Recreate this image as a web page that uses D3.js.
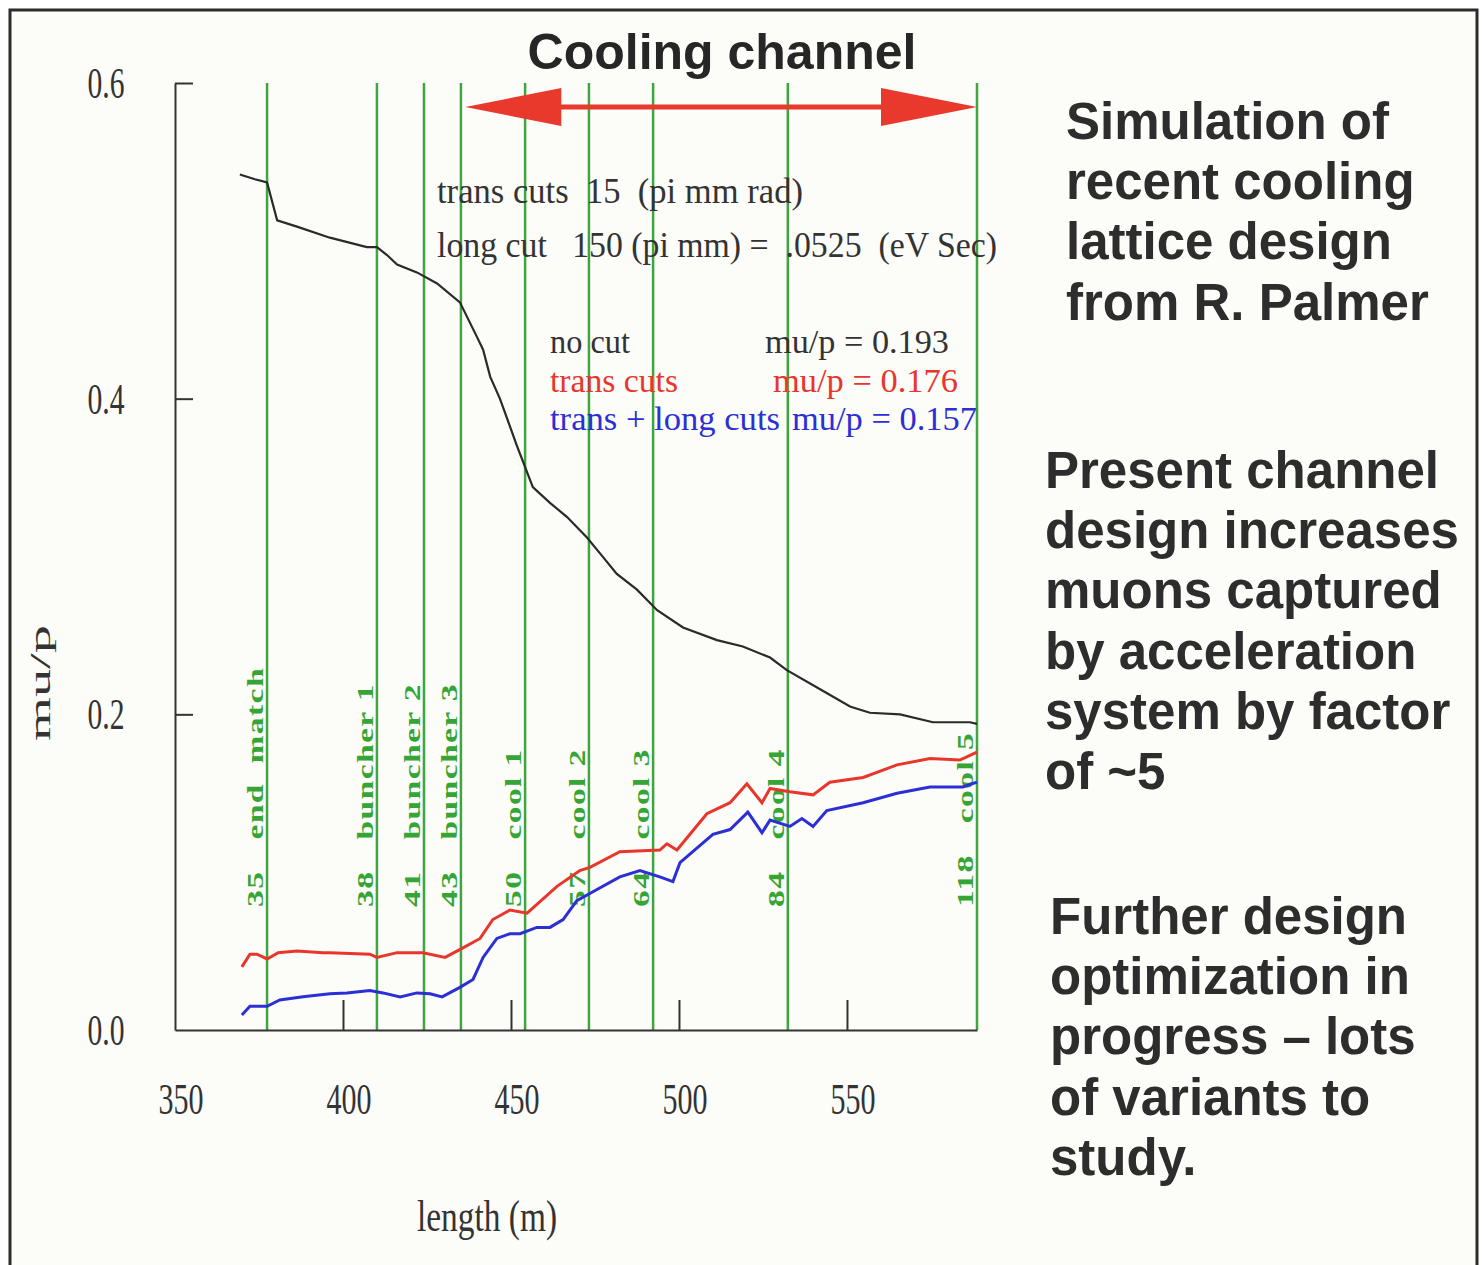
<!DOCTYPE html>
<html>
<head>
<meta charset="utf-8">
<script src="https://cdn.jsdelivr.net/npm/d3@7"></script>
<style>
  body { margin: 0; background: #fff; }
  text { white-space: pre; }
</style>
</head>
<body>
<div id="chart"></div>
<script>
// axis ticks
const xTicks = [350, 400, 450, 500, 550];
const yTicks = [0.0, 0.2, 0.4, 0.6];

// lattice section boundaries (length in m), cell numbers and names
const sectionPos = [377.4, 410.1, 424.1, 435.1, 454.2, 473.2, 492.3, 532.4, 588.7];
const sectionNum = ['35', '38', '41', '43', '50', '57', '64', '84', '118'];
const sectionName = ['end  match', 'buncher 1', 'buncher 2', 'buncher 3', 'cool 1', 'cool 2', 'cool 3', 'cool 4', 'cool 5'];

// mu/p along the channel: [length (m), mu/p]
const noCut = [
    [369.3, 0.542], [373.8, 0.539], [377.4, 0.537], [380.4, 0.513], [386.3, 0.509],
    [396.1, 0.502], [407.1, 0.496], [410.1, 0.496], [413.1, 0.491], [416.1, 0.485],
    [422.0, 0.480], [428.0, 0.473], [434.8, 0.461], [439.9, 0.439], [441.7, 0.431],
    [443.8, 0.414], [446.7, 0.400], [451.8, 0.370], [456.5, 0.344], [461.6, 0.334],
    [466.7, 0.325], [472.6, 0.312], [476.5, 0.302], [481.5, 0.289], [487.5, 0.279],
    [493.5, 0.266], [501.2, 0.255], [511.3, 0.247], [519.0, 0.243], [527.1, 0.236],
    [532.1, 0.228], [541.1, 0.217], [550.9, 0.205], [556.8, 0.201], [565.8, 0.200],
    [575.6, 0.195], [586.6, 0.195], [588.7, 0.194]
];
const transCuts = [
    [369.9, 0.040], [372.3, 0.048], [374.4, 0.048], [377.4, 0.045], [380.7, 0.049],
    [386.3, 0.050], [394.0, 0.049], [396.1, 0.049], [408.0, 0.048], [410.1, 0.046],
    [416.1, 0.049], [423.8, 0.049], [430.4, 0.046], [435.7, 0.052], [440.8, 0.058],
    [444.6, 0.070], [449.7, 0.076], [454.8, 0.074], [463.7, 0.091], [470.5, 0.101],
    [473.5, 0.103], [482.4, 0.113], [494.3, 0.114], [496.4, 0.118], [499.4, 0.114],
    [508.3, 0.137], [515.2, 0.144], [520.2, 0.156], [524.7, 0.144], [527.1, 0.153],
    [533.0, 0.151], [539.9, 0.149], [544.9, 0.157], [554.8, 0.160], [564.9, 0.168],
    [574.7, 0.172], [583.6, 0.171], [588.7, 0.176]
];
const transLongCuts = [
    [369.9, 0.0095], [372.3, 0.015], [377.4, 0.015], [381.2, 0.019], [388.1, 0.021],
    [396.1, 0.023], [401.2, 0.0235], [408.0, 0.025], [411.9, 0.0235], [417.0, 0.021],
    [422.0, 0.0235], [425.9, 0.023], [429.5, 0.021], [434.8, 0.027], [438.7, 0.032],
    [441.7, 0.046], [445.8, 0.058], [449.7, 0.061], [452.7, 0.061], [457.7, 0.065],
    [461.6, 0.065], [465.5, 0.070], [469.6, 0.082], [475.6, 0.089], [482.4, 0.097],
    [488.4, 0.101], [494.3, 0.097], [498.2, 0.094], [500.3, 0.106], [510.1, 0.124],
    [515.2, 0.127], [520.5, 0.138], [524.7, 0.125], [527.1, 0.133], [533.0, 0.129],
    [536.6, 0.134], [539.9, 0.129], [544.0, 0.139], [554.8, 0.144], [564.9, 0.150],
    [574.7, 0.154], [584.5, 0.154], [588.7, 0.157]
];

const legendLabels = ['no cut', 'trans cuts', 'trans + long cuts'];
const legendValues = ['mu/p = 0.193', 'mu/p = 0.176', 'mu/p = 0.157'];
const cutNotes = ['trans cuts  15  (pi mm rad)', 'long cut   150 (pi mm) =  .0525  (eV Sec)'];
const arrowRange = [436.4, 588.7];

const textBlock1 = ['Simulation of', 'recent cooling', 'lattice design', 'from R. Palmer'];
const textBlock2 = ['Present channel', 'design increases', 'muons captured', 'by acceleration', 'system by factor', 'of ~5'];
const textBlock3 = ['Further design', 'optimization in', 'progress \u2013 lots', 'of variants to', 'study.'];

const W = 1484, H = 1265;
const serif = '"Liberation Serif", "DejaVu Serif", serif';
const sans = '"Liberation Sans", Arial, sans-serif';
const green = '#3fa53f';

const svg = d3.select('#chart')
    .append('svg')
    .attr('width', W)
    .attr('height', H);

// slide frame
svg.append('rect')
    .attr('x', 10).attr('y', 10)
    .attr('width', 1467).attr('height', 1300)
    .attr('fill', '#fcfcf9')
    .attr('stroke', '#2b2b2b')
    .attr('stroke-width', 3);

const x = d3.scaleLinear().domain([350, 588.7]).range([175, 977]);
const y = d3.scaleLinear().domain([0, 0.6]).range([1030, 83]);

// serif text, squeezed to a width and stretched upwards like the original print
function stext(g, str, px, py, size, len, color, anchor, sy) {
    const t = g.append('text')
        .attr('transform', 'translate(' + px + ',' + py + ') scale(1,' + (sy || 1.25) + ')')
        .attr('font-family', serif)
        .attr('font-size', size)
        .attr('fill', color || '#2e2e2e')
        .attr('text-anchor', anchor || 'start')
        .text(str);
    if (len) t.attr('textLength', len).attr('lengthAdjust', 'spacingAndGlyphs');
    return t;
}

// section boundaries
svg.append('g')
    .selectAll('line')
    .data(sectionPos)
    .enter()
    .append('line')
    .attr('x1', d => x(d)).attr('x2', d => x(d))
    .attr('y1', y(0.6)).attr('y2', y(0))
    .attr('stroke', green)
    .attr('stroke-width', 2.5);

// section labels, rotated, to the left of each line
const lab = svg.append('g').attr('font-family', serif).attr('font-weight', 'bold')
    .attr('font-size', 24).attr('fill', '#35a535').attr('letter-spacing', 1);
const stretch = 1.4;
sectionPos.forEach((p, i) => {
    const bx = x(p) - 4, by = 907;
    const num = lab.append('text')
        .attr('transform', 'translate(' + bx + ',' + by + ') rotate(-90) scale(' + stretch + ',1)')
        .text(sectionNum[i]);
    const nl = num.node().getComputedTextLength() * stretch;
    const ny = by - nl - 31;
    lab.append('text')
        .attr('transform', 'translate(' + bx + ',' + ny + ') rotate(-90) scale(' + stretch + ',1)')
        .text(sectionName[i]);
});

// axes
const yAxis = svg.append('g')
    .attr('transform', 'translate(175,0)')
    .call(d3.axisLeft(y).tickValues([0.2, 0.4, 0.6]).tickSize(-18).tickSizeOuter(0).tickFormat(''));
const xAxis = svg.append('g')
    .attr('transform', 'translate(0,1030)')
    .call(d3.axisBottom(x).tickValues([400, 450, 500, 550]).tickSize(-30).tickSizeOuter(0).tickFormat(''));
[yAxis, xAxis].forEach(a => {
    a.selectAll('path, line').attr('stroke', '#333').attr('stroke-width', 2);
});

yTicks.forEach(v => {
    stext(svg, d3.format('.1f')(v), 106, y(v) + 15, 34, 37, '#333', 'middle', 1.3);
});
xTicks.forEach(v => {
    stext(svg, String(v), x(v) + 6, 1114, 34, 45, '#333', 'middle', 1.3);
});
stext(svg, 'length (m)', 487, 1231, 34, 140, '#333', 'middle', 1.3);
svg.append('text')
    .attr('transform', 'translate(50,683) rotate(-90)')
    .attr('font-family', serif).attr('font-size', 30)
    .attr('fill', '#333').attr('text-anchor', 'middle')
    .attr('textLength', 116).attr('lengthAdjust', 'spacingAndGlyphs')
    .text('mu/p');

// curves
const line = d3.line().x(d => x(d[0])).y(d => y(d[1]));
svg.append('path').datum(noCut)
    .attr('d', line).attr('fill', 'none')
    .attr('stroke', '#2a2a2a').attr('stroke-width', 2.2);
svg.append('path').datum(transCuts)
    .attr('d', line).attr('fill', 'none')
    .attr('stroke', '#e8362c').attr('stroke-width', 3);
svg.append('path').datum(transLongCuts)
    .attr('d', line).attr('fill', 'none')
    .attr('stroke', '#2b2fd4').attr('stroke-width', 3);

// cut notes
stext(svg, cutNotes[0], 437, 203, 29, 366, '#333');
stext(svg, cutNotes[1], 437, 257, 29, 560, '#333');

// legend
const legColors = ['#333', '#e8362c', '#2b2fd4'];
const legX = [[550, 80, 765, 184], [550, 128, 773, 185], [550, 230, 792, 185]];
const legY = [353, 392, 430];
legendLabels.forEach((s, i) => {
    stext(svg, s, legX[i][0], legY[i], 27, legX[i][1], legColors[i], 'start', 1.22);
    stext(svg, legendValues[i], legX[i][2], legY[i], 27, legX[i][3], legColors[i], 'start', 1.22);
});

// cooling channel arrow
const ay = 107, head = 96, hw = 19;
const ax0 = x(arrowRange[0]), ax1 = x(arrowRange[1]);
svg.append('line')
    .attr('x1', ax0 + head - 5).attr('x2', ax1 - head + 5)
    .attr('y1', ay).attr('y2', ay)
    .attr('stroke', '#e8392c').attr('stroke-width', 5);
svg.append('path')
    .attr('d', 'M' + ax0 + ',' + ay + 'L' + (ax0 + head) + ',' + (ay - hw) + 'L' + (ax0 + head) + ',' + (ay + hw) + 'Z')
    .attr('fill', '#e8392c');
svg.append('path')
    .attr('d', 'M' + ax1 + ',' + ay + 'L' + (ax1 - head) + ',' + (ay - hw) + 'L' + (ax1 - head) + ',' + (ay + hw) + 'Z')
    .attr('fill', '#e8392c');

svg.append('text')
    .attr('x', 722).attr('y', 69)
    .attr('font-family', sans).attr('font-weight', 'bold')
    .attr('font-size', 50).attr('fill', '#262626')
    .attr('text-anchor', 'middle')
    .text('Cooling channel');

// right hand commentary
function block(lines, bx, by0) {
    svg.append('g')
        .selectAll('text')
        .data(lines)
        .enter()
        .append('text')
        .attr('x', bx)
        .attr('y', (d, i) => by0 + i * 60.2)
        .attr('font-family', sans).attr('font-weight', 'bold')
        .attr('font-size', 51).attr('fill', '#2d2d2d')
        .text(d => d);
}
block(textBlock1, 1066, 139);
block(textBlock2, 1045, 488);
block(textBlock3, 1050, 934);
</script>
</body>
</html>
